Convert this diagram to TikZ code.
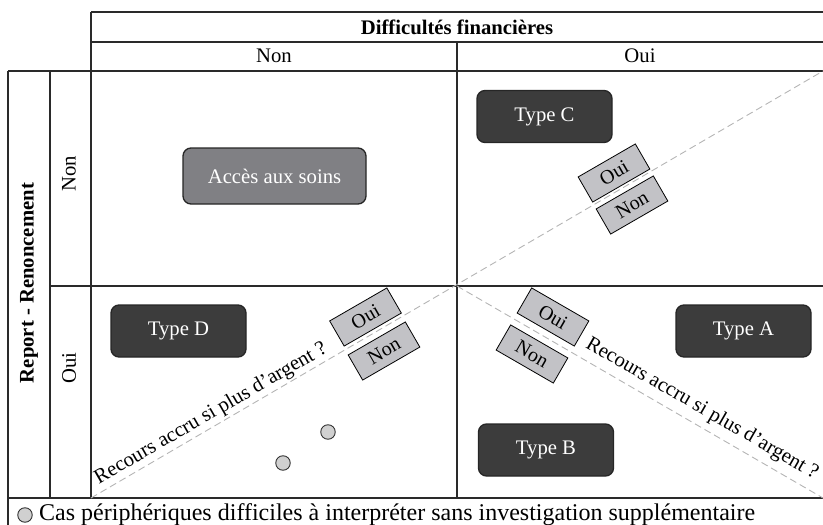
\documentclass[tikz,border=0pt]{standalone}
\usepackage{fontspec}
\setmainfont{Liberation Serif}
\definecolor{darkbox}{HTML}{3C3C3C}
\definecolor{midbox}{HTML}{808084}
\definecolor{lightbox}{HTML}{C2C2C6}
\definecolor{dotfill}{HTML}{D0D0D0}
\definecolor{dashcol}{HTML}{B4B4B4}
\definecolor{linecol}{HTML}{2A2A2A}
\begin{document}
\begin{tikzpicture}[x=1pt,y=-1pt,
  tl/.style={draw=linecol,line width=1.2pt},
  txt/.style={font=\fontsize{20.7}{24}\selectfont,inner sep=0pt},
  btxt/.style={font=\fontsize{20.7}{24}\selectfont\bfseries,inner sep=0pt},
  typebox/.style={draw=black!85,line width=1.3pt,fill=darkbox,rounded corners=8pt,text=white,
    minimum width=135pt,minimum height=52pt,font=\fontsize{20.7}{24}\selectfont,inner sep=0pt},
  accbox/.style={typebox,fill=midbox,minimum width=183pt,minimum height=56pt},
  ynbox/.style={draw=black,line width=0.8pt,fill=lightbox,minimum width=66pt,minimum height=29pt,
    inner sep=0pt,font=\fontsize{20}{22}\selectfont},
  dashline/.style={draw=dashcol,line width=0.9pt,dash pattern=on 7pt off 4pt},
  dot/.style={circle,draw=black!80,line width=0.9pt,fill=dotfill,minimum size=14.5pt,inner sep=0pt}]
\useasboundingbox (0,0) rectangle (823,525);
% grid
\draw[tl] (91,12) -- (823,12);
\draw[tl] (91,42) -- (823,42);
\draw[tl] (8,71) -- (823,71);
\draw[tl] (91,12) -- (91,498);
\draw[tl] (457,42) -- (457,498);
\draw[tl] (50,71) -- (50,498);
\draw[tl] (8,71) -- (8,525);
\draw[tl] (50,286) -- (823,286);
\draw[tl] (8,498) -- (823,498);
% headers
\node[btxt] (hdf) at (457,27) {Difficultés financières};
\node[txt] (hnon) at (274,56) {Non};
\node[txt] (houi) at (640,56) {Oui};
\node[btxt,rotate=90] (hrr) at (29,283) {Report - Renoncement};
\node[txt,rotate=90] (rnon) at (69,174) {Non};
\node[txt,rotate=90] (roui) at (69,368) {Oui};
% diagonals
\coordinate (c) at (457,286);
\coordinate (ll) at (91,498);
\coordinate (ur) at (823,71);
\coordinate (lr) at (823,498);
\draw[dashline] (ll) -- (ur);
\draw[dashline] (c) -- (lr);
% main boxes
\node[accbox] (acc) at (274.5,176) {Accès aux soins};
\node[typebox] (tc) at (544.5,116.5) {Type C};
\node[typebox] (td) at (178.5,331) {Type D};
\node[typebox] (ta) at (743.5,331) {Type A};
\node[typebox] (tb) at (546,450) {Type B};
% oui/non boxes
\node[ynbox,rotate=30] (o1) at (614,173) {Oui};
\node[ynbox,rotate=30] (n1) at (632,205) {Non};
\node[ynbox,rotate=30] (o2) at (365.5,317) {Oui};
\node[ynbox,rotate=30] (n2) at (384,351) {Non};
\node[ynbox,rotate=-30] (o3) at (553,317) {Oui};
\node[ynbox,rotate=-30] (n3) at (532,354) {Non};
% line labels
\node[txt,rotate=30] (rl) at (211,414) {Recours accru si plus d’argent ?};
\node[txt,rotate=-30] (rr) at (702,409) {Recours accru si plus d’argent ?};
% dots
\node[dot] (d1) at (328,432) {};
\node[dot] (d2) at (283,463) {};
% legend
\node[dot] (ld) at (25,515) {};
\node[anchor=west,inner sep=0pt,font=\fontsize{24}{28}\selectfont] (lt) at (39,515) {Cas périphériques difficiles à interpréter sans investigation supplémentaire};
\end{tikzpicture}
\end{document}
